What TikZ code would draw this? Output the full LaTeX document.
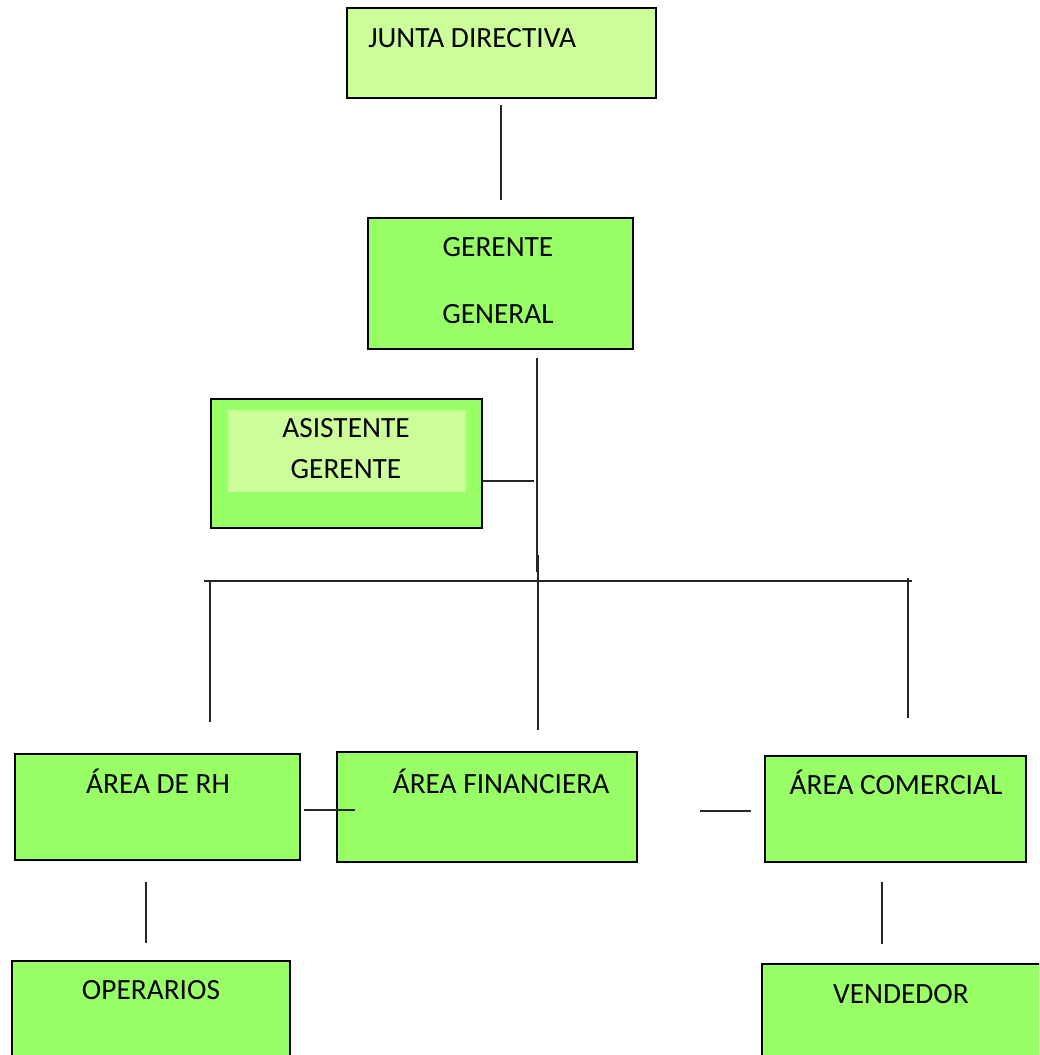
\documentclass[tikz,border=0pt]{standalone}
\usepackage{fontspec}
\setmainfont{Carlito}
\usetikzlibrary{positioning, fit}
\definecolor{paleverde}{RGB}{204,255,153}
\definecolor{verde}{RGB}{153,255,102}

\begin{document}
\begin{tikzpicture}[x=0.75pt, y=-0.75pt,
      box/.style={draw=black, line width=1.3pt, fill=verde, inner sep=0pt},
      palebox/.style={box, fill=paleverde},
      inset/.style={fill=paleverde, draw=none, inner sep=0pt},
      txt/.style={font=\fontsize{22}{26}\selectfont, inner sep=0pt, anchor=base},
      conn/.style={draw=black!85, line width=1.1pt}]
      \useasboundingbox (0,0) rectangle (1039,1055);
      \clip (0,0) rectangle (1039,1055);
      % cajas
      \node[palebox, fit={(347,8) (656,98)}]     (junta) {};
      \node[box, fit={(368,218) (633,349)}]      (gerente) {};
      \node[box, fit={(211,399) (482,528)}]      (asist) {};
      \node[inset, fit={(228,410) (466,492)}]    (asistin) {};
      \node[box, fit={(15,754) (300,860)}]       (rh) {};
      \node[box, fit={(337,752) (637,862)}]      (fin) {};
      \node[box, fit={(765,756) (1026,862)}]     (com) {};
      \node[box, fit={(12,961) (290,1080)}]      (oper) {};
      \node[box, fit={(762,964) (1048,1080)}]    (vend) {};
      % textos
      \node[txt, anchor=base west] (juntatxt) at (368,48) {JUNTA DIRECTIVA};
      \node[txt] (gertxt)  at (498,257) {GERENTE};
      \node[txt] (gentxt)  at (498,323) {GENERAL};
      \node[txt] (asitxt)  at (346,437) {ASISTENTE};
      \node[txt] (asgtxt)  at (346,478) {GERENTE};
      \node[txt] (rhtxt)   at (158,793) {ÁREA DE RH};
      \node[txt] (fintxt)  at (501,793) {ÁREA FINANCIERA};
      \node[txt] (comtxt)  at (896,794) {ÁREA COMERCIAL};
      \node[txt] (opetxt)  at (151,999) {OPERARIOS};
      \node[txt] (ventxt)  at (901,1003) {VENDEDOR};
      % puntos de las lineas
      \coordinate (jg1) at (501,105);   \coordinate (jg2) at (501,200);
      \coordinate (sp1) at (537,358);   \coordinate (sp2) at (537,572);
      \coordinate (hk)  at (534,481);
      \coordinate (sp3) at (538,555);   \coordinate (sp4) at (538,730);
      \coordinate (barL) at (204,581);  \coordinate (barR) at (912,581);
      \coordinate (rh1) at (210,581);   \coordinate (rh2) at (210,722);
      \coordinate (co1) at (908,578);   \coordinate (co2) at (908,718);
      \coordinate (rf1) at (304,810);   \coordinate (rf2) at (355,810);
      \coordinate (fc1) at (700,811);   \coordinate (fc2) at (751,811);
      \coordinate (ro1) at (146,882);   \coordinate (ro2) at (146,943);
      \coordinate (cv1) at (882,882);   \coordinate (cv2) at (882,944);
      \path[conn] (jg1) -- (jg2)
        (sp1) -- (sp2)
        (asist.east |- hk) -- (hk)
        (sp3) -- (sp4)
        (barL) -- (barR)
        (rh1) -- (rh2)
        (co1) -- (co2)
        (rf1) -- (rf2)
        (fc1) -- (fc2)
        (ro1) -- (ro2)
        (cv1) -- (cv2);
\end{tikzpicture}
\end{document}
